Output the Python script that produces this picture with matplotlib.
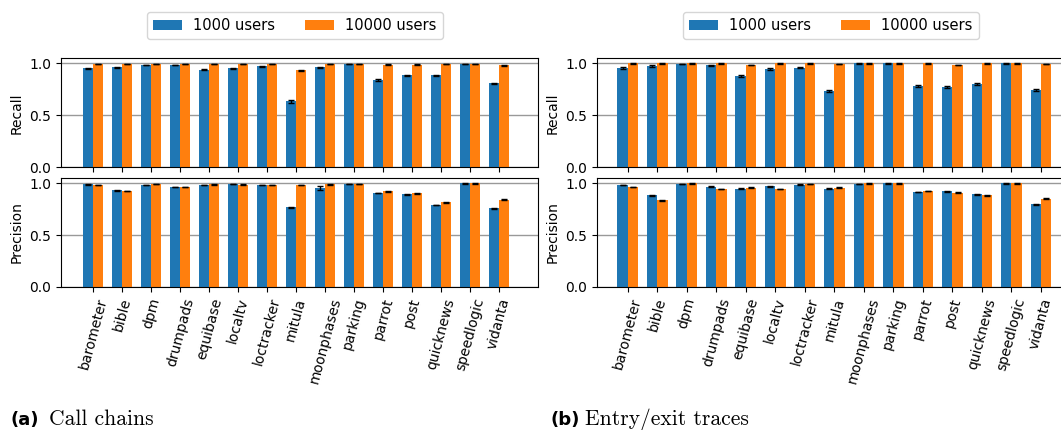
import numpy as np
import matplotlib.pyplot as plt

apps = ['barometer', 'bible', 'dpm', 'drumpads', 'equibase', 'localtv',
        'loctracker', 'mitula', 'moonphases', 'parking', 'parrot', 'post',
        'quicknews', 'speedlogic', 'vidanta']

# (a) call chains
cc_recall_1k = [0.955, 0.965, 0.984, 0.984, 0.942, 0.952, 0.974, 0.635,
                0.965, 0.994, 0.840, 0.888, 0.888, 0.994, 0.811]
cc_recall_10k = [0.997, 0.997, 0.997, 0.997, 0.997, 0.997, 0.997, 0.933,
                 0.997, 0.997, 0.990, 0.990, 0.994, 0.997, 0.981]
cc_recall_1k_err = [0.004, 0.004, 0.003, 0.003, 0.003, 0.004, 0.004, 0.015,
                    0.004, 0.002, 0.006, 0.004, 0.004, 0.002, 0.004]
cc_recall_10k_err = [0.002, 0.002, 0.002, 0.002, 0.002, 0.002, 0.002, 0.003,
                     0.002, 0.002, 0.002, 0.002, 0.002, 0.002, 0.003]

cc_prec_1k = [0.990, 0.932, 0.984, 0.965, 0.984, 0.994, 0.984, 0.768,
              0.955, 0.997, 0.906, 0.897, 0.790, 1.000, 0.761]
cc_prec_10k = [0.984, 0.926, 0.997, 0.965, 0.990, 0.987, 0.984, 0.984,
               0.994, 0.997, 0.923, 0.903, 0.816, 1.000, 0.842]
cc_prec_1k_err = [0.003, 0.003, 0.003, 0.003, 0.003, 0.002, 0.003, 0.006,
                  0.020, 0.002, 0.003, 0.004, 0.003, 0.002, 0.006]
cc_prec_10k_err = [0.003, 0.003, 0.002, 0.003, 0.002, 0.003, 0.003, 0.003,
                   0.005, 0.002, 0.003, 0.002, 0.003, 0.002, 0.003]

# (b) entry/exit traces
ee_recall_1k = [0.955, 0.977, 0.994, 0.981, 0.881, 0.949, 0.958, 0.733,
                1.000, 1.000, 0.781, 0.775, 0.804, 1.000, 0.749]
ee_recall_10k = [1.000, 1.000, 1.000, 1.000, 0.987, 1.000, 1.000, 0.994,
                 1.000, 1.000, 1.000, 0.987, 1.000, 1.000, 0.994]
ee_recall_1k_err = [0.008, 0.006, 0.003, 0.006, 0.012, 0.010, 0.005, 0.012,
                    0.002, 0.002, 0.008, 0.007, 0.012, 0.002, 0.010]
ee_recall_10k_err = [0.002, 0.002, 0.002, 0.002, 0.003, 0.002, 0.002, 0.002,
                     0.002, 0.002, 0.002, 0.003, 0.002, 0.002, 0.002]

ee_prec_1k = [0.984, 0.887, 0.994, 0.968, 0.948, 0.974, 0.987, 0.948,
              0.994, 1.000, 0.919, 0.926, 0.897, 1.000, 0.797]
ee_prec_10k = [0.965, 0.839, 1.000, 0.945, 0.958, 0.945, 0.994, 0.958,
               1.000, 1.000, 0.926, 0.910, 0.887, 1.000, 0.852]
ee_prec_1k_err = [0.003, 0.006, 0.002, 0.004, 0.004, 0.004, 0.003, 0.005,
                  0.003, 0.002, 0.003, 0.004, 0.005, 0.002, 0.004]
ee_prec_10k_err = [0.003, 0.005, 0.002, 0.003, 0.003, 0.003, 0.003, 0.004,
                   0.002, 0.002, 0.003, 0.004, 0.004, 0.002, 0.004]

C1K = '#1f77b4'
C10K = '#ff7f0e'
W = 0.35

plt.rcParams['font.size'] = 10

fig = plt.figure(figsize=(10.61, 4.30), dpi=100)


def bars(ax, v1, e1, v2, e2, xlim, labels):
    x = np.arange(len(apps))
    ax.bar(x - W / 2, v1, W, yerr=e1, color=C1K, label='1000 users',
           error_kw=dict(ecolor='black', elinewidth=1, capsize=2, capthick=1))
    ax.bar(x + W / 2, v2, W, yerr=e2, color=C10K, label='10000 users',
           error_kw=dict(ecolor='black', elinewidth=1, capsize=2, capthick=1))
    ax.set_xlim(*xlim)
    ax.set_ylim(0, 1.05)
    ax.set_yticks([0.0, 0.5, 1.0])
    ax.set_xticks(x)
    ax.set_axisbelow(True)
    ax.yaxis.grid(True, color='grey', linewidth=1, alpha=0.8)
    if labels:
        ax.set_xticklabels(apps, rotation=75)
    else:
        ax.set_xticklabels([])


panels = [
    (61, (-1.115, 15.35), cc_recall_1k, cc_recall_1k_err, cc_recall_10k, cc_recall_10k_err,
     cc_prec_1k, cc_prec_1k_err, cc_prec_10k, cc_prec_10k_err),
    (597, (-1.04, 15.12), ee_recall_1k, ee_recall_1k_err, ee_recall_10k, ee_recall_10k_err,
     ee_prec_1k, ee_prec_1k_err, ee_prec_10k, ee_prec_10k_err),
]

for left, xlim, r1, re1, r2, re2, p1, pe1, p2, pe2 in panels:
    ax_r = fig.add_axes([left / 1061, (430 - 167.3) / 430, 477 / 1061, 109 / 430])
    ax_p = fig.add_axes([left / 1061, (430 - 286.7) / 430, 477 / 1061, 108.4 / 430])
    bars(ax_r, r1, re1, r2, re2, xlim, False)
    bars(ax_p, p1, pe1, p2, pe2, xlim, True)
    ax_r.set_ylabel('Recall')
    ax_p.set_ylabel('Precision')
    ax_r.legend(loc='upper center', bbox_to_anchor=(0.49, 1.425), ncol=2,
                borderaxespad=0, fontsize=10.5)

# subfigure captions
cap_y = 5 / 430
fig.text(10 / 1061, cap_y, '(a)', fontweight='bold', fontsize=13, va='baseline')
fig.text(49 / 1061, cap_y, 'Call chains', family='cmr10', fontsize=15.5, va='baseline')
fig.text(550 / 1061, cap_y, '(b)', fontweight='bold', fontsize=13, va='baseline')
fig.text(585 / 1061, cap_y, 'Entry/exit traces', family='cmr10', fontsize=15.5, va='baseline')

fig.savefig('out.png', dpi=100)
